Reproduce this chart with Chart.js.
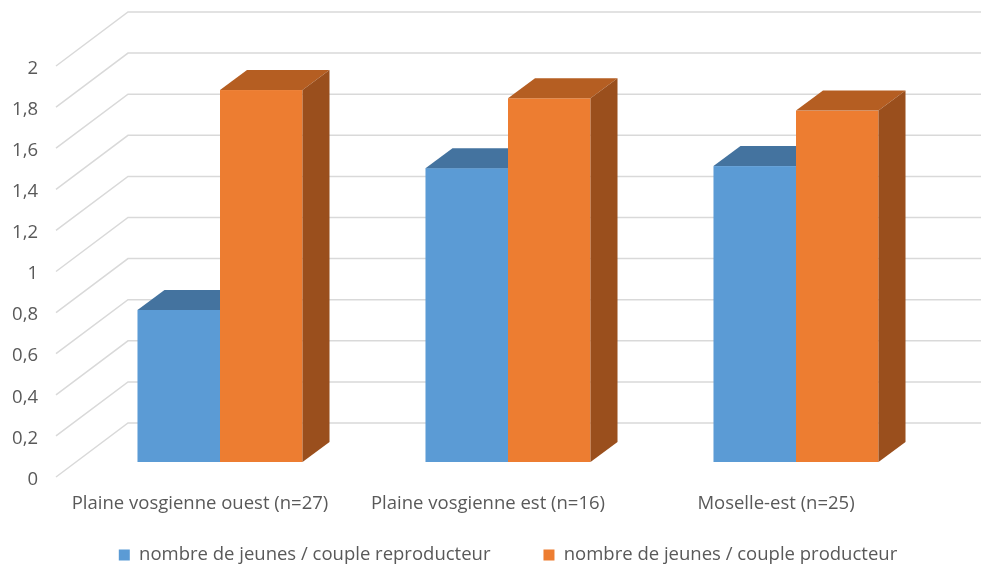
<!DOCTYPE html>
<html>
<head>
<meta charset="utf-8">
<script src="https://cdn.jsdelivr.net/npm/chart.js@4.4.1/dist/chart.umd.min.js"></script>
<style>
  html, body { margin: 0; padding: 0; background: #fff; }
  #wrap { width: 981px; height: 569px; }
</style>
</head>
<body>
<div id="wrap"><canvas id="chart"></canvas></div>
<script>
const categories = ['Plaine vosgienne ouest (n=27)', 'Plaine vosgienne est (n=16)', 'Moselle-est (n=25)'];
const seriesNames = ['nombre de jeunes / couple reproducteur', 'nombre de jeunes / couple producteur'];
const reproducteur = [0.74, 1.43, 1.44];
const producteur = [1.81, 1.77, 1.71];

// face colours: front, top, side
const blueFaces = ['#5B9BD5', '#44739F', '#3C6790'];
const orangeFaces = ['#ED7D31', '#B55E22', '#9A4F1D'];

const FONT = '"Open Sans", sans-serif';
const FONT_SIZE = 18.5;
const TEXT = '#595959';

// oblique depth of the whole plot (front plane -> back wall)
const WALL_DX = 72, WALL_DY = -54;
// bars sit a bit behind the front plane, and have their own depth
const BAR_OX = 20, BAR_OY = -15;
const BAR_DX = 27, BAR_DY = -20;

const LEGEND_GAP = 53;

const fake3d = {
    id: 'fake3d',
    beforeDraw(chart) {
        // legend row sits lower than its padding would put it, and a bit right
        const lg = chart.legend;
        const top = 555 - FONT_SIZE / 2 - LEGEND_GAP;
        lg.top = top;
        lg.bottom = chart.height;
        lg.height = chart.height - top;
        lg.left += 48;
        lg.right += 48;
    },
    beforeDatasetsDraw(chart) {
        const ctx = chart.ctx;
        const area = chart.chartArea;
        const y = chart.scales.y;
        ctx.save();
        // side wall + back wall gridlines
        ctx.strokeStyle = '#D9D9D9';
        ctx.lineWidth = 1.5;
        y.ticks.forEach(t => {
            const py = y.getPixelForValue(t.value);
            ctx.beginPath();
            ctx.moveTo(area.left, py);
            ctx.lineTo(area.left + WALL_DX, py + WALL_DY);
            ctx.lineTo(chart.width, py + WALL_DY);
            ctx.stroke();
        });

        const faces = [blueFaces, orangeFaces];
        categories.forEach((c, i) => {
            chart.data.datasets.forEach((ds, d) => {
                const bar = chart.getDatasetMeta(d).data[i];
                const p = bar.getProps(['x', 'y', 'base', 'width'], true);
                const l = p.x - p.width / 2 + BAR_OX;
                const r = p.x + p.width / 2 + BAR_OX;
                const t = p.y + BAR_OY;
                const b = p.base + BAR_OY;
                const col = faces[d];
                // front
                ctx.fillStyle = col[0];
                ctx.fillRect(l, t, r - l, b - t);
                // top
                ctx.fillStyle = col[1];
                ctx.beginPath();
                ctx.moveTo(l, t);
                ctx.lineTo(r, t);
                ctx.lineTo(r + BAR_DX, t + BAR_DY);
                ctx.lineTo(l + BAR_DX, t + BAR_DY);
                ctx.closePath();
                ctx.fill();
                // side
                ctx.fillStyle = col[2];
                ctx.beginPath();
                ctx.moveTo(r, t);
                ctx.lineTo(r + BAR_DX, t + BAR_DY);
                ctx.lineTo(r + BAR_DX, b + BAR_DY);
                ctx.lineTo(r, b);
                ctx.closePath();
                ctx.fill();
            });
        });
        ctx.restore();
        return false; // flat bars are replaced by the 3D ones above
    }
};

new Chart(document.getElementById('chart'), {
    type: 'bar',
    data: {
        labels: categories,
        datasets: [
            { label: seriesNames[0], data: reproducteur, backgroundColor: blueFaces[0] },
            { label: seriesNames[1], data: producteur, backgroundColor: orangeFaces[0] }
        ]
    },
    options: {
        responsive: true,
        maintainAspectRatio: false,
        animation: false,
        events: [],
        layout: { padding: { top: 66, right: 61, left: 0, bottom: 0 } },
        datasets: { bar: { barPercentage: 1, categoryPercentage: 0.573 } },
        scales: {
            x: {
                grid: { display: false, drawTicks: false },
                border: { display: false },
                ticks: { color: TEXT, font: { family: FONT, size: FONT_SIZE }, padding: 16, maxRotation: 0 },
                afterFit: s => { s.height = 80; }
            },
            y: {
                min: 0,
                max: 2,
                grid: { display: false, drawTicks: false },
                border: { display: false },
                ticks: {
                    stepSize: 0.2,
                    color: TEXT,
                    font: { family: FONT, size: FONT_SIZE },
                    padding: 18,
                    labelOffset: 2.5,
                    callback: v => String(Math.round(v * 10) / 10).replace('.', ',')
                },
                afterFit: s => { s.width = 56; }
            }
        },
        plugins: {
            legend: {
                position: 'bottom',
                maxHeight: 12,
                labels: {
                    color: TEXT,
                    font: { family: FONT, size: FONT_SIZE },
                    boxWidth: 11,
                    boxHeight: 11,
                    padding: LEGEND_GAP
                }
            },
            tooltip: { enabled: false }
        }
    },
    plugins: [fake3d]
});
</script>
</body>
</html>
